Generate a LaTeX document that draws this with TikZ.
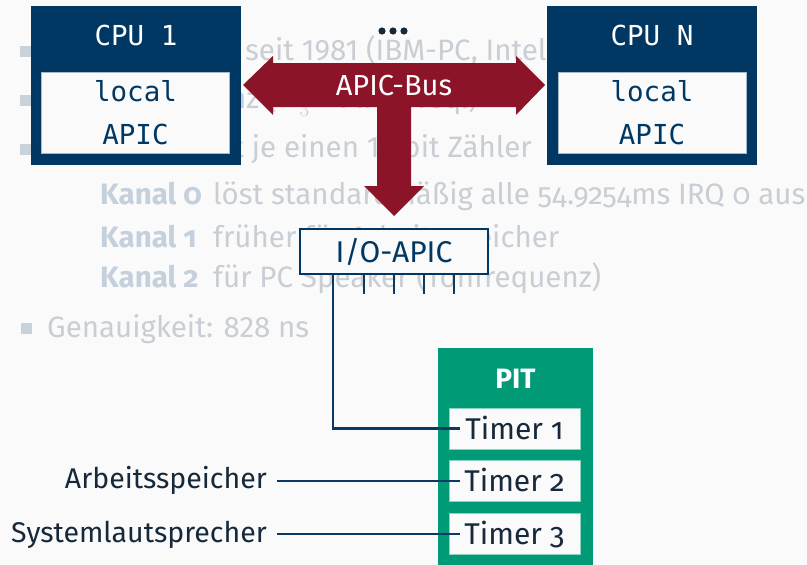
\documentclass[tikz,border=0pt]{standalone}
\usepackage{fontspec}
\setmainfont{Fira Sans}
\newfontfamily\osf[Numbers=OldStyle]{Fira Sans}
\newfontfamily\monof{DejaVu Sans Mono}
\definecolor{bg}{HTML}{FAFAFA}
\definecolor{navy}{RGB}{0,56,99}
\definecolor{wirec}{RGB}{10,58,100}
\definecolor{busred}{RGB}{139,20,41}
\definecolor{pitgreen}{RGB}{0,154,118}
\definecolor{ink}{RGB}{22,40,58}
\definecolor{fadetext}{RGB}{200,206,212}
\definecolor{fadelabel}{RGB}{196,208,220}
\definecolor{fadebullet}{RGB}{200,210,218}
\begin{document}
\begin{tikzpicture}[x=1pt,y=-1pt,
  faded/.style={inner sep=0pt, text=fadetext, font=\fontsize{29.5}{35}\selectfont},
  fadedosf/.style={faded, font=\fontsize{29.5}{35}\selectfont\osf},
  fadedbold/.style={inner sep=0pt, text=fadelabel, font=\fontsize{29.5}{35}\selectfont\osf\bfseries},
  cpubox/.style={fill=navy, draw=none, minimum width=210pt, minimum height=159pt, inner sep=0pt},
  cputitle/.style={inner sep=0pt, text=white, font=\monof\fontsize{27.5}{32}\selectfont},
  lapic/.style={fill=bg, draw=navy!35!white, line width=0.8pt, minimum width=188pt, minimum height=81pt,
    inner sep=0pt, align=center, text=navy, font=\monof\fontsize{27.5}{43}\selectfont},
  iobox/.style={fill=bg, draw=navy, line width=2.2pt, minimum width=188pt, minimum height=45pt,
    inner sep=0pt, text=navy, text height=21pt, text depth=0pt, font=\fontsize{30}{36}\selectfont},
  pitbox/.style={fill=pitgreen, draw=none, minimum width=155pt, minimum height=217pt, inner sep=0pt},
  timer/.style={fill=bg, draw=pitgreen!45!white, line width=0.8pt, minimum width=131pt, minimum height=41pt,
    inner sep=0pt, text=ink, text height=21pt, text depth=0pt, font=\fontsize{30}{36}\selectfont\osf},
  sidelabel/.style={inner xsep=10pt, inner ysep=0pt, text=ink, font=\fontsize{28.5}{34}\selectfont},
  wire/.style={draw=wirec, line width=2.2pt},
]
% page background
\fill[bg] (0,0) rectangle (807,565);
\path[use as bounding box] (0,0) rectangle (807,565);

% faded slide text underneath the diagram
\fill[fadebullet] (20,46) rectangle (31,57);
\fill[fadebullet] (20,95) rectangle (31,106);
\fill[fadebullet] (20,144) rectangle (31,155);
\fill[fadebullet] (21,323) rectangle (32,334);
\node[faded, anchor=base west] (b1) at (245,60) {seit 1981 (IBM-PC, Intel 8253)};
\node[faded, anchor=base west] (b2) at (138,108) {Frequenz ($\frac{3.5795}{3}$ MHz Freq.)};
\node[faded, anchor=base east] (b3) at (532,157) {Jeder Kanal hat je einen 16 bit Zähler};
\node[fadedbold, anchor=base west] (k0) at (100,204) {Kanal 0};
\node[fadedosf, anchor=base west] (d0) at (213,204) {löst standardmäßig alle 54.9254ms IRQ 0 aus};
\node[fadedbold, anchor=base west] (k1) at (100,247) {Kanal 1};
\node[fadedosf, anchor=base west] (d1) at (213,247) {früher für Arbeitsspeicher};
\node[fadedbold, anchor=base west] (k2) at (100,287) {Kanal 2};
\node[fadedosf, anchor=base west] (d2) at (213,287) {für PC Speaker (Tonfrequenz)};
\node[faded, anchor=base west] (b4) at (47,337) {Genauigkeit: 828 ns};

% CPU 1
\node[cpubox] (cpu1) at (136,85.5) {};
\node[cputitle, anchor=base] (cpu1t) at (136,45) {CPU 1};
\node[lapic] (lapic1) at (135.5,113) {local\\APIC};

% CPU N
\node[cpubox] (cpun) at (652,85.5) {};
\node[cputitle, anchor=base] (cpunt) at (652,45) {CPU N};
\node[lapic] (lapicn) at (652,113) {local\\APIC};

% ellipsis between the CPUs
\fill[ink] (382,31) circle (3.6pt);
\fill[ink] (393,31) circle (3.6pt);
\fill[ink] (404,31) circle (3.6pt);

% APIC bus: double arrow with a branch down to the I/O-APIC
\fill[busred] (243,85) -- (273,56) -- (273,63) -- (516,63) -- (516,56) -- (545,85)
  -- (516,115) -- (516,107) -- (411,107) -- (411,186) -- (424,186) -- (394,216)
  -- (364,186) -- (377,186) -- (377,107) -- (273,107) -- (273,115) -- cycle;
\node[inner sep=0pt, text=white, text height=21pt, text depth=0pt,
  font=\fontsize{29}{35}\selectfont] (bus) at (394,85) {APIC-Bus};

% I/O-APIC with its interrupt lines
\node[iobox] (io) at (394,251.5) {I/O-APIC};
\foreach \dx in {-30,0,30,60}
  \draw[wire] ([xshift=\dx pt]io.south) -- ++(0,19);

% PIT with its three timers
\node[pitbox] (pit) at (515.5,456.5) {};
\node[inner sep=0pt, text=white, font=\fontsize{28}{34}\selectfont\bfseries, anchor=base] (pitt) at (515.5,388) {PIT};
\node[timer] (t1) at (514.5,428.5) {Timer 1};
\node[timer] (t2) at (514.5,481) {Timer 2};
\node[timer] (t3) at (514.5,534) {Timer 3};

% consumers of the timers
\node[sidelabel, anchor=base east] (mem) at (277,488) {Arbeitsspeicher};
\node[sidelabel, anchor=base east] (spk) at (277,542) {Systemlautsprecher};

% connections
\draw[wire] ([xshift=-61pt]io.south) |- ([xshift=11pt]t1.west);
\draw[wire] (mem.east |- t2.west) -- ([xshift=11pt]t2.west);
\draw[wire] (spk.east |- t3.west) -- ([xshift=11pt]t3.west);
\end{tikzpicture}
\end{document}
